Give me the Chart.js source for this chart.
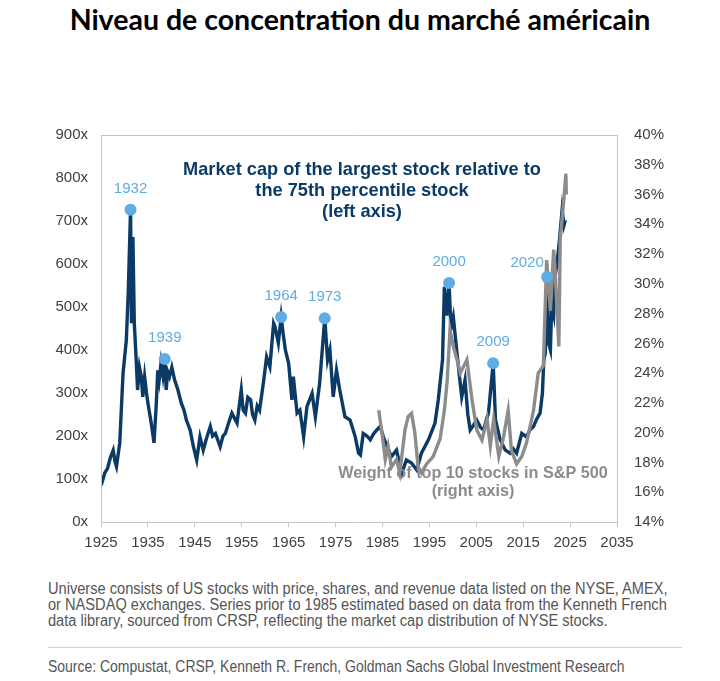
<!DOCTYPE html>
<html>
<head>
<meta charset="utf-8">
<script src="https://cdn.jsdelivr.net/npm/chart.js@4.4.1/dist/chart.umd.min.js"></script>
<style>
  html, body { margin:0; padding:0; background:#fff; }
  body { width:720px; height:681px; position:relative; overflow:hidden; }
  #title { position:absolute; left:0; top:1px; width:720px; text-align:center;
    font-family:Lato, "Open Sans", sans-serif; font-weight:bold; font-size:28.5px; line-height:36px; color:#000; }
  #wrap { position:absolute; left:0; top:120px; width:720px; height:440px; }
  .fn { position:absolute; left:48px; white-space:nowrap; transform-origin:0 0;
    font-family:"Liberation Sans", Arial, sans-serif; font-size:16px; line-height:16px; color:#555; }
  #note { top:581px; transform:scaleX(0.913); }
  #sep { position:absolute; left:48px; top:647px; width:634px; height:1px; background:#d0d0d0; }
  #src { top:659px; transform:scaleX(0.873); }
</style>
</head>
<body>
<div id="title">Niveau de concentration du marché américain</div>
<div id="wrap"><canvas id="c" width="720" height="440"></canvas></div>
<div id="note" class="fn">Universe consists of US stocks with price, shares, and revenue data listed on the NYSE, AMEX,<br>or NASDAQ exchanges. Series prior to 1985 estimated based on data from the Kenneth French<br>data library, sourced from CRSP, reflecting the market cap distribution of NYSE stocks.</div>
<div id="sep"></div>
<div id="src" class="fn">Source: Compustat, CRSP, Kenneth R. French, Goldman Sachs Global Investment Research</div>
<script>
// ---- data ----
const xTicks = [1925,1935,1945,1955,1965,1975,1985,1995,2005,2015,2025,2035];
const leftTicks = [0,100,200,300,400,500,600,700,800,900];
const rightTicks = [14,16,18,20,22,24,26,28,30,32,34,36,38,40];

const capYears = [1925.0,1925.3,1925.8,1926.4,1927.0,1927.6,1928.0,1928.3,1929.0,1929.7,1930.4,1930.8,1931.3,1931.5,1931.8,1932.1,1932.5,1932.8,1933.2,1933.6,1933.9,1934.3,1934.7,1935.0,1935.7,1936.3,1936.8,1937.1,1937.4,1937.8,1938.2,1938.6,1938.9,1939.2,1939.6,1940.1,1940.7,1941.4,1942.1,1942.7,1943.2,1944.0,1944.7,1945.4,1946.1,1946.8,1947.5,1948.3,1948.8,1949.4,1950.4,1951.0,1951.5,1952.2,1952.9,1954.0,1954.9,1955.3,1955.8,1956.3,1956.9,1957.3,1957.8,1958.3,1958.8,1959.7,1960.3,1961.0,1961.8,1962.1,1962.8,1963.4,1963.8,1964.3,1965.0,1965.7,1966.0,1966.8,1967.4,1968.2,1968.9,1970.0,1970.7,1971.6,1972.7,1973.3,1973.8,1974.5,1975.2,1975.9,1977.0,1978.1,1979.2,1979.9,1980.3,1980.9,1981.7,1982.4,1983.1,1983.8,1984.5,1985.2,1986.0,1986.9,1988.0,1989.1,1990.1,1991.2,1992.3,1993.3,1994.8,1996.2,1996.9,1997.8,1998.2,1998.7,1999.2,1999.6,2000.1,2000.9,2001.4,2001.9,2002.6,2003.2,2003.7,2004.4,2005.1,2005.9,2006.6,2007.2,2007.6,2008.6,2009.1,2010.1,2011.2,2012.2,2012.9,2013.6,2014.7,2015.7,2016.5,2017.2,2017.9,2018.6,2019.1,2019.4,2019.7,2020.1,2020.4,2020.8,2021.1,2021.5,2021.8,2022.2,2022.6,2023.3,2023.7,2024.0];
const capValues = [85,95,114,125,150,167,140,129,184,346,423,532,726,462,663,462,377,307,360,338,291,338,300,277,230,184,277,353,330,370,340,379,307,350,338,360,330,307,277,260,237,214,175,144,198,167,195,222,200,206,175,200,206,230,253,230,307,260,253,290,284,250,237,270,260,330,384,361,462,454,416,477,440,400,369,284,338,253,260,198,268,299,245,322,474,377,400,291,353,307,245,237,198,160,156,206,200,191,205,214,222,198,175,152,167,113,144,137,121,160,191,230,284,377,547,480,556,450,477,392,340,291,330,250,214,225,237,220,214,240,253,369,237,191,167,160,170,160,206,198,215,222,240,253,300,377,392,570,416,400,509,485,570,602,640,726,690,702];

const topYears = [1984.2,1984.9,1985.6,1986.2,1986.9,1988.0,1988.7,1989.8,1990.5,1991.2,1991.9,1992.6,1993.3,1994.4,1995.8,1997.3,1998.2,1998.8,1999.4,2000.1,2000.9,2001.6,2003.0,2004.1,2005.1,2006.2,2007.3,2008.0,2008.7,2009.8,2010.8,2011.8,2012.5,2013.6,2014.7,2015.7,2016.8,2017.2,2018.2,2019.3,2020.0,2020.8,2021.5,2021.8,2022.6,2022.9,2023.6,2024.1,2024.2];
const topValues = [21.5,20.0,18.2,19.1,17.7,18.2,17.3,20.2,21.1,21.3,20.0,17.7,17.3,17.9,18.4,19.6,21.5,23.5,26.9,25.8,24.9,24.0,24.9,22.2,20.2,19.5,20.9,19.1,20.9,18.4,19.7,21.5,18.8,17.9,18.4,19.3,20.9,21.5,24.0,24.5,31.6,28.2,32.3,30.9,25.8,33.0,35.4,37.4,36.0];

const peakLabels = ["1932","1939","1964","1973","2000","2009","2020"];
const peakYears  = [1931.3,1938.6,1963.4,1972.7,1999.2,2008.6,2020.1];
const peakValues = [726,379,477,474,556,369,570];

// ---- chart ----
const NAVY = '#0c3a66', GREY = '#8c8c8c', DOT = '#5eace4', FRAME = '#c4c4c4';
const FONT = '"Liberation Sans", Arial, sans-serif';

const pts = (xs, ys) => xs.map((x, i) => ({x, y: ys[i]}));

const overlay = {
  id: 'overlay',
  afterDatasetsDraw(chart) {
    const {ctx, chartArea: a, scales} = chart;
    ctx.save();
    // frame
    ctx.strokeStyle = FRAME; ctx.lineWidth = 1;
    ctx.beginPath();
    ctx.moveTo(a.left + 0.5, a.bottom); ctx.lineTo(a.left + 0.5, a.top + 0.5);
    ctx.lineTo(a.right + 0.5, a.top + 0.5); ctx.lineTo(a.right + 0.5, a.bottom);
    ctx.stroke();
    // peak labels
    ctx.font = '15px ' + FONT; ctx.fillStyle = DOT; ctx.textBaseline = 'middle'; ctx.textAlign = 'center';
    peakLabels.forEach((t, i) => {
      const px = scales.x.getPixelForValue(peakYears[i]);
      const py = scales.y.getPixelForValue(peakValues[i]);
      if (i === peakLabels.length - 1) ctx.fillText(t, px - 20, py - 14);
      else ctx.fillText(t, px, py - 21);
    });
    // series annotations
    ctx.font = 'bold 18.2px ' + FONT; ctx.fillStyle = NAVY;
    const cx = a.left + 261;
    ctx.fillText('Market cap of the largest stock relative to', cx, a.top + 35);
    ctx.fillText('the 75th percentile stock', cx, a.top + 56);
    ctx.fillText('(left axis)', cx, a.top + 77);
    ctx.font = 'bold 16.2px ' + FONT; ctx.fillStyle = GREY;
    const gx = a.left + 372;
    ctx.fillText('Weight of top 10 stocks in S&P 500', gx, a.top + 339);
    ctx.fillText('(right axis)', gx, a.top + 357);
    ctx.restore();
  }
};

new Chart(document.getElementById('c'), {
  type: 'line',
  data: {
    datasets: [
      { type: 'scatter', data: pts(peakYears, peakValues), yAxisID: 'y',
        pointRadius: 6, pointHoverRadius: 6, pointBackgroundColor: DOT, pointBorderWidth: 0, order: 0 },
      { data: pts(topYears, topValues), yAxisID: 'y1', borderColor: GREY, borderWidth: 3.4,
        pointRadius: 0, tension: 0, fill: false, order: 1 },
      { data: pts(capYears, capValues), yAxisID: 'y', borderColor: NAVY, borderWidth: 3.4,
        pointRadius: 0, tension: 0, fill: false, order: 2 }
    ]
  },
  options: {
    responsive: false, animation: false, devicePixelRatio: 1,
    layout: { padding: { top: 15, left: 0, right: 0, bottom: 0 }, autoPadding: false },
    plugins: { legend: { display: false }, tooltip: { enabled: false } },
    scales: {
      x: { type: 'linear', min: 1925, max: 2035,
        afterBuildTicks: s => { s.ticks = xTicks.map(v => ({value: v})); },
        afterFit: s => { s.height = 38; s.paddingLeft = 0; s.paddingRight = 0; },
        ticks: { callback: v => String(v), font: { size: 15, family: FONT }, color: '#404040', padding: 7, maxRotation: 0, autoSkip: false },
        grid: { drawOnChartArea: false, drawTicks: true, tickLength: 5, color: FRAME },
        border: { display: true, color: FRAME } },
      y: { position: 'left', min: 0, max: 900,
        afterBuildTicks: s => { s.ticks = leftTicks.map(v => ({value: v})); },
        afterFit: s => { s.width = 101; s.paddingTop = 0; s.paddingBottom = 0; },
        ticks: { callback: v => v + 'x', font: { size: 15, family: FONT }, color: '#404040', padding: 13 },
        grid: { display: false, drawTicks: false },
        border: { display: true, color: FRAME } },
      y1: { position: 'right', min: 14, max: 40,
        afterBuildTicks: s => { s.ticks = rightTicks.map(v => ({value: v})); },
        afterFit: s => { s.width = 103; s.paddingTop = 0; s.paddingBottom = 0; },
        ticks: { callback: v => v + '%', font: { size: 15, family: FONT }, color: '#404040', padding: 17 },
        grid: { display: false, drawTicks: false },
        border: { display: true, color: FRAME } }
    }
  },
  plugins: [overlay]
});
</script>
</body>
</html>
